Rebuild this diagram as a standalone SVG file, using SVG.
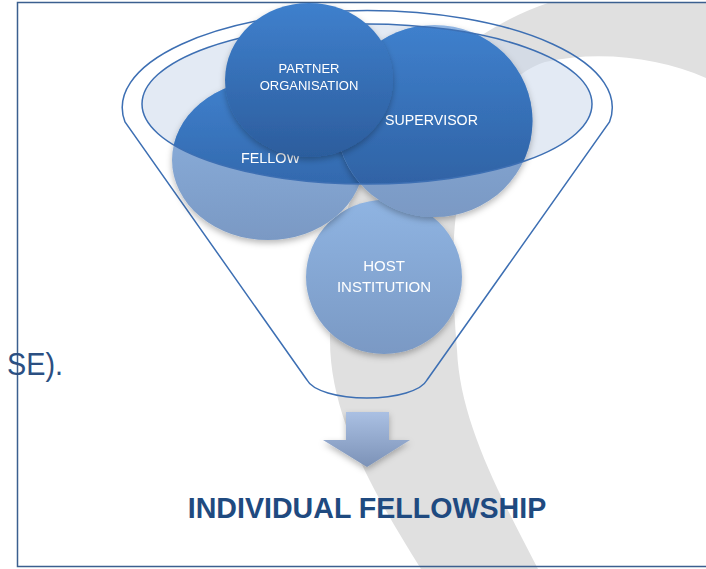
<svg xmlns="http://www.w3.org/2000/svg" width="706" height="569" viewBox="0 0 706 569">
<style>
.lbl{font-family:"Liberation Sans",Arial,sans-serif;fill:#ffffff;text-anchor:middle}
.rim{fill:none;stroke:#3d6fb3;stroke-width:1.5}
</style>
<defs>
<linearGradient id="gDark" x1="0" y1="0" x2="0" y2="1"><stop offset="0" stop-color="#3f80cd"/><stop offset="1" stop-color="#2c5d9d"/></linearGradient>
<linearGradient id="gLight" x1="0" y1="0" x2="0" y2="1"><stop offset="0" stop-color="#8fb4e2"/><stop offset="1" stop-color="#7a99c4"/></linearGradient>
<linearGradient id="gArrow" x1="0" y1="0" x2="0" y2="1"><stop offset="0" stop-color="#aac0e3"/><stop offset="1" stop-color="#7c92b7"/></linearGradient>
<clipPath id="cInner"><ellipse cx="367" cy="104" rx="225" ry="80"/></clipPath>
<filter id="sh" x="-20%" y="-20%" width="140%" height="150%"><feDropShadow dx="0" dy="3" stdDeviation="3" flood-color="#000" flood-opacity="0.28"/></filter>
</defs>
<rect x="0" y="0" width="706" height="569" fill="#ffffff"/>
<g id="watermark">
<path d="M548,3 C480,25 400,90 370,150 C345,200 330,270 330,340 C330,420 378,500 421,569 L538,569 C497,490 460,420 457,350 C452,290 450,230 462,180 C475,120 505,75 545,62 C600,50 660,58 706,78 L706,3 Z" fill="#e0e0e0"/>
</g>
<rect id="frame" x="17.5" y="2.5" width="720" height="564" fill="none" stroke="#3b5f8f" stroke-width="1.5"/>
<text x="7" y="375" font-family="'Liberation Sans',Arial,sans-serif" font-size="32" fill="#2b4f82" textLength="56" lengthAdjust="spacingAndGlyphs">SE).</text>
<g id="funnel">
<path class="rim" d="M307,380 L125,122 A245 97 0 1 1 609.5,122 L427,380 A61 22 0 0 1 307,380 Z"/>
<ellipse cx="367" cy="104" rx="225" ry="80" fill="#c8d5e9" fill-opacity="0.5"/>
</g>
<g id="node-host" filter="url(#sh)">
<ellipse cx="384" cy="277" rx="78" ry="77" fill="url(#gLight)"/>
<text class="lbl" x="384" y="270.7" font-size="15">HOST</text>
<text class="lbl" x="384" y="291.7" font-size="15">INSTITUTION</text>
</g>
<g id="node-fellow" filter="url(#sh)">
<ellipse cx="268" cy="160" rx="96" ry="80" fill="url(#gLight)"/>
<ellipse cx="268" cy="160" rx="96" ry="80" fill="url(#gDark)" clip-path="url(#cInner)"/>
<text class="lbl" x="270.5" y="163" font-size="14.4">FELLOW</text>
</g>
<g id="node-supervisor" filter="url(#sh)">
<ellipse cx="434.5" cy="121" rx="98" ry="96" fill="url(#gLight)"/>
<ellipse cx="434.5" cy="121" rx="98" ry="96" fill="url(#gDark)" clip-path="url(#cInner)"/>
<text class="lbl" x="431.5" y="125" font-size="14.2">SUPERVISOR</text>
</g>
<ellipse id="funnel-rim" class="rim" cx="367" cy="104" rx="225" ry="80"/>
<g id="node-partner" filter="url(#sh)">
<ellipse cx="309" cy="80" rx="84" ry="77" fill="url(#gDark)"/>
<text class="lbl" x="309" y="73.3" font-size="13">PARTNER</text>
<text class="lbl" x="309" y="90" font-size="13">ORGANISATION</text>
</g>
<g id="connectors">
<polygon points="346,412 389,412 389,440 410,440 367,467 323,440 346,440" fill="url(#gArrow)" filter="url(#sh)"/>
</g>
<g id="node-result">
<text x="367" y="518" font-family="'Liberation Sans',Arial,sans-serif" font-size="28.6" font-weight="bold" fill="#1f4a80" text-anchor="middle">INDIVIDUAL FELLOWSHIP</text>
</g>
</svg>
